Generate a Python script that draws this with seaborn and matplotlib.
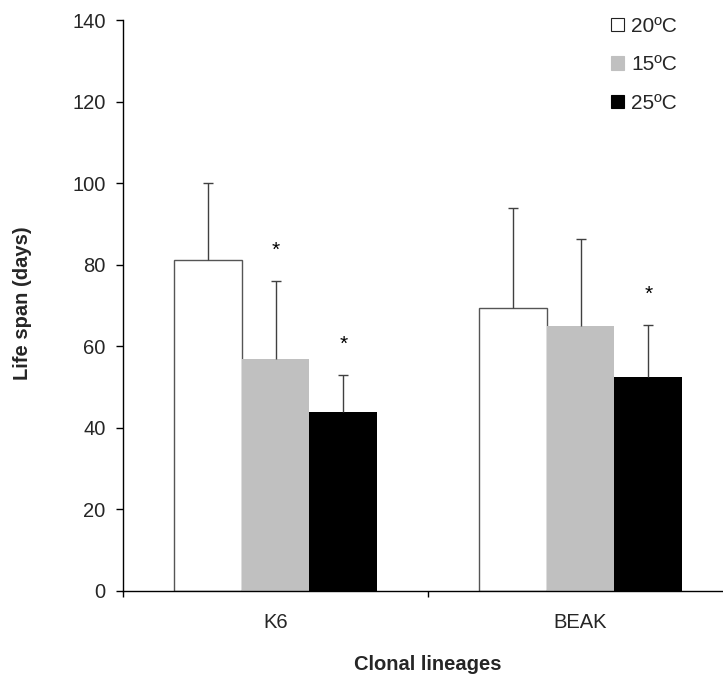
import matplotlib
matplotlib.use("Agg")
import matplotlib.pyplot as plt
import seaborn as sns
import pandas as pd
from matplotlib.patches import Patch

# ---- data ----
lineages = ["K6", "BEAK"]
temps = ["20ºC", "15ºC", "25ºC"]
mean_20 = [81.2, 69.3]
mean_15 = [57.0, 65.0]
mean_25 = [44.0, 52.4]
errtop_20 = [100.0, 94.0]
errtop_15 = [76.0, 86.2]
errtop_25 = [53.0, 65.2]
signif_20 = [False, False]
signif_15 = [True, False]
signif_25 = [True, True]
yticks = [0, 20, 40, 60, 80, 100, 120, 140]

rows = []
for t, m, e, s in zip(temps, [mean_20, mean_15, mean_25],
                      [errtop_20, errtop_15, errtop_25],
                      [signif_20, signif_15, signif_25]):
    for i, lin in enumerate(lineages):
        rows.append({"lineage": lin, "temp": t, "mean": m[i],
                     "err": e[i] - m[i], "sig": s[i]})
df = pd.DataFrame(rows)

sns.set_theme(style="white")
plt.rcParams["font.family"] = ["Liberation Sans", "DejaVu Sans"]

W, H = 723, 677
fig = plt.figure(figsize=(W / 100, H / 100), dpi=100)
ax_left, ax_bottom_px, ax_w, ax_h = 123, 591, 610, 571
ax = fig.add_axes([ax_left / W, (H - ax_bottom_px) / H, ax_w / W, ax_h / H])

colors = {"20ºC": "#FFFFFF", "15ºC": "#C0C0C0", "25ºC": "#000000"}
sns.barplot(data=df, x="lineage", y="mean", hue="temp", order=lineages,
            hue_order=temps, palette=colors, width=0.667, saturation=1,
            errorbar=None, legend=False, ax=ax, linewidth=0)

for t, cont in zip(temps, ax.containers):
    sub = df[df.temp == t].set_index("lineage").loc[lineages]
    for bar, (_, r) in zip(cont, sub.iterrows()):
        if t == "20ºC":
            bar.set_edgecolor("#555555")
            bar.set_linewidth(1.0)
        cx = bar.get_x() + bar.get_width() / 2
        top = r["mean"] + r["err"]
        ax.errorbar(cx, r["mean"], yerr=[[0], [r["err"]]], fmt="none",
                    ecolor="#404040", elinewidth=1.0, capsize=0, zorder=3)
        ax.plot([cx], [top], marker="_", markersize=6.5, markeredgewidth=1.0,
                color="#404040", zorder=3)
        if r["sig"]:
            ax.text(cx, top + 7.5, "*", ha="center",
                    va="center", fontsize=15, color="black")

ax.set_xlim(-0.5, 1.5)
ax.set_ylim(0, 140)
ax.set_yticks(yticks)
ax.set_yticklabels([str(v) for v in yticks], fontsize=14.5)
ax.set_xticks([-0.5, 0.5, 1.5])
ax.set_xticklabels([])
ax.set_xticks([0, 1], minor=True)
ax.set_xticklabels(lineages, minor=True, fontsize=14.5)
ax.tick_params(axis="y", which="major", direction="out", length=5, width=1,
               color="black", pad=7.5, left=True)
ax.tick_params(axis="x", which="major", direction="out", length=4.5, width=1,
               color="black", bottom=True)
ax.tick_params(axis="x", which="minor", length=0, pad=16, bottom=True)

for s in ["top", "right"]:
    ax.spines[s].set_visible(False)
for s in ["left", "bottom"]:
    ax.spines[s].set_color("black")
    ax.spines[s].set_linewidth(1.0)

ax.set_ylabel("Life span (days)", fontsize=14.5, fontweight="bold", va="center")
ax.yaxis.set_label_coords((22.5 - ax_left) / ax_w, (ax_bottom_px - 303) / ax_h)
ax.set_xlabel("Clonal lineages", fontsize=14.5, fontweight="bold", va="center")
ax.xaxis.set_label_coords(0.5, (ax_bottom_px - 665) / ax_h)

handles = [Patch(facecolor=colors[t], edgecolor="#222222" if t == "20ºC" else colors[t],
                 linewidth=0.8, label=t) for t in temps]
fig.legend(handles=handles, loc="upper left",
           bbox_to_anchor=(611 / W, 1 - 17 / H), frameon=False, fontsize=15,
           handlelength=0.62, handleheight=0.62, handletextpad=0.35,
           labelspacing=0.93, borderpad=0, borderaxespad=0)

fig.savefig("out.png", dpi=100)
